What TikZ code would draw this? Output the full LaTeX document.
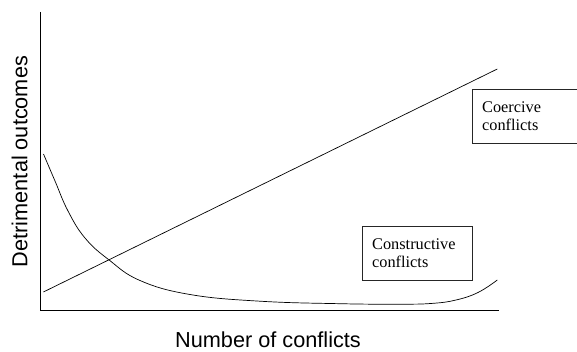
\documentclass[tikz,border=0pt]{standalone}
\usepackage{fontspec}
\setmainfont{Liberation Serif}
\setsansfont{Liberation Sans}
\usepackage{tikz}
\usetikzlibrary{positioning}
\tikzset{labelbox/.style={draw=black!85, line width=0.8pt, anchor=north west, align=left,
                          inner xsep=9.5pt, inner ysep=0pt, minimum height=54pt,
                          font=\fontsize{16.3}{18}\selectfont},
         axislabel/.style={font=\sffamily\fontsize{21.7}{26}\selectfont}}

\begin{document}
\begin{tikzpicture}[x=1pt, y=1pt, line width=0.7pt]
				\useasboundingbox (0,0) rectangle (577,351);
				\clip (0,0) rectangle (577,351);
				\coordinate (Origin) at (40.7,40.3);
				\coordinate (YTop) at (40.7,339);
				\coordinate (XEnd) at (499.3,40.3);
				\draw[line width=1.2pt] (YTop) |- (XEnd);
				\node[axislabel, rotate=90, anchor=base] (YLabel) at (27.3,189.5) {Detrimental outcomes};
				\node[axislabel, anchor=base] (XLabel) at (268,3.5) {Number of conflicts};
				% coercive conflicts
				\coordinate (CoerciveStart) at (43.4,59);
				\coordinate (CoerciveEnd) at (497.3,282);
				\draw (CoerciveStart) -- (CoerciveEnd);
				% constructive conflicts
				\draw plot[smooth, tension=0.7] coordinates {(43.5,197) (55,170) (68,140) (85,113) (108.5,91.5) (140,70.5) (190,56.5) (260,49.8) (340,47.3) (400,46.8) (432,47.6) (456,51) (478,58.5) (497.3,71)};
				\node[labelbox, text width=91pt] (Constructive) at (362.3,125.3) {Constructive\\conflicts};
				\node[labelbox, text width=101pt] (Coercive) at (472.3,262) {Coercive\\conflicts};
			\end{tikzpicture}
\end{document}
